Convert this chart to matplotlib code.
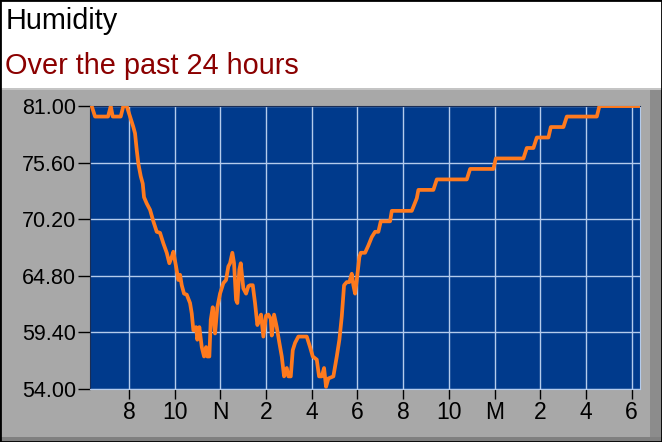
import matplotlib.pyplot as plt
from matplotlib.patches import Rectangle

plt.rcParams['font.family'] = ['Liberation Sans', 'DejaVu Sans']

# hours since midnight of the first day, humidity (%)
hours = [6.374, 6.519, 7.088, 7.206, 7.293, 7.643, 7.757, 7.906, 8.050, 8.195,
         8.269, 8.344, 8.414, 8.519, 8.606, 8.663, 8.781, 8.926, 9.070, 9.219,
         9.363, 9.508, 9.656, 9.770, 9.875, 9.945, 10.063, 10.164, 10.238, 10.313,
         10.413, 10.532, 10.676, 10.751, 10.821, 10.939, 10.995, 11.083, 11.188, 11.289,
         11.376, 11.433, 11.521, 11.582, 11.669, 11.770, 11.871, 11.989, 12.133, 12.251,
         12.352, 12.426, 12.527, 12.601, 12.689, 12.746, 12.833, 12.895, 13.008, 13.127,
         13.227, 13.302, 13.420, 13.520, 13.621, 13.708, 13.783, 13.884, 14.002, 14.102,
         14.208, 14.251, 14.352, 14.470, 14.584, 14.689, 14.790, 14.908, 14.978, 15.083,
         15.170, 15.271, 15.415, 15.783, 15.927, 16.045, 16.220, 16.321, 16.439, 16.540,
         16.627, 16.728, 16.947, 17.096, 17.210, 17.314, 17.415, 17.533, 17.647, 17.752,
         17.822, 17.897, 17.971, 18.085, 18.146, 18.334, 18.479, 18.627, 18.772, 18.916,
         19.021, 19.428, 19.503, 20.378, 20.597, 20.667, 21.323, 21.472, 22.785, 22.929,
         23.949, 24.054, 25.262, 25.410, 25.699, 25.848, 26.356, 26.461, 27.012, 27.161,
         28.474, 28.587, 30.368]
humidity = [81.0, 80.0, 80.0, 81.0, 80.0, 80.0, 81.0, 81.0, 80.0, 79.0,
            78.4, 76.8, 75.5, 74.3, 73.6, 72.3, 71.7, 71.1, 70.0, 69.0,
            68.9, 67.9, 67.0, 66.0, 66.6, 67.1, 65.7, 64.4, 64.9, 63.9,
            63.1, 63.0, 62.2, 61.2, 59.6, 59.9, 58.7, 59.9, 58.0, 57.1,
            58.0, 57.1, 57.1, 60.6, 61.8, 59.3, 61.8, 63.1, 64.1, 64.4,
            65.7, 66.0, 67.0, 66.0, 62.5, 62.2, 65.4, 66.0, 63.6, 63.1,
            63.8, 63.9, 63.9, 62.2, 60.1, 60.6, 61.1, 59.0, 61.0, 61.1,
            60.7, 59.1, 61.1, 59.9, 58.4, 57.1, 55.2, 56.0, 55.2, 55.2,
            57.7, 58.4, 59.0, 59.0, 58.0, 57.1, 56.8, 55.2, 55.2, 56.0,
            54.2, 55.0, 55.2, 57.1, 58.7, 60.9, 63.9, 64.2, 64.2, 65.0,
            63.9, 63.1, 64.4, 66.6, 67.0, 67.0, 67.7, 68.5, 69.0, 69.0,
            70.0, 70.0, 71.0, 71.0, 72.2, 73.0, 73.0, 74.0, 74.0, 75.0,
            75.0, 76.0, 76.0, 77.0, 77.0, 78.0, 78.0, 79.0, 79.0, 80.0,
            80.0, 81.0, 81.0]

x_ticks = [8, 10, 12, 14, 16, 18, 20, 22, 24, 26, 28, 30]
x_labels = ['8', '10', 'N', '2', '4', '6', '8', '10', 'M', '2', '4', '6']
y_ticks = [54.0, 59.4, 64.8, 70.2, 75.6, 81.0]

fig = plt.figure(figsize=(6.62, 4.42), dpi=100)
fig.patch.set_facecolor('white')

# grey panel with bevel
panel = [
    ((0, 0), 1, 0.801, '#a8a8a8'),
    ((0.982, 0.005), 0.018, 0.796, '#8c8c8c'),
    ((0, 0), 1, 0.012, '#808080'),
    ((0, 0.797), 1, 0.004, '#c4c4c4'),
]
for xy, w, h, c in panel:
    fig.patches.append(Rectangle(xy, w, h, transform=fig.transFigure,
                                 facecolor=c, edgecolor='none', zorder=-2))
fig.patches.append(Rectangle((0, 0), 1, 1, transform=fig.transFigure,
                             facecolor='none', edgecolor='black', linewidth=2, zorder=5))

fig.text(0.008, 0.935, 'Humidity', fontsize=20.8, color='black', va='baseline')
fig.text(0.008, 0.832, 'Over the past 24 hours', fontsize=20.8, color='#8b0000', va='baseline')

ax = fig.add_axes([0.136, 0.12, 0.831, 0.64])
ax.set_zorder(2)
ax.set_facecolor('#003a8c')
ax.plot(hours, humidity, color='#ff7a1e', linewidth=2.7,
        solid_joinstyle='round', zorder=4)

ax.set_xlim(6.3, 30.37)
ax.set_ylim(54, 81)
ax.set_xticks(x_ticks)
ax.set_xticklabels(x_labels)
ax.set_yticks(y_ticks)
ax.set_yticklabels([f'{v:.2f}' for v in y_ticks])
ax.grid(True, color='#b4cbec', linewidth=1)
ax.tick_params(axis='x', length=7, width=1, pad=2, labelsize=16.5, colors='black')
ax.tick_params(axis='y', length=9, width=1, pad=1, labelsize=15.5, colors='black')
for side in ['top', 'left']:
    ax.spines[side].set_color('#1a2d55')
for side in ['bottom', 'right']:
    ax.spines[side].set_color('#b4cbec')

fig.savefig('out.png', dpi=100)
